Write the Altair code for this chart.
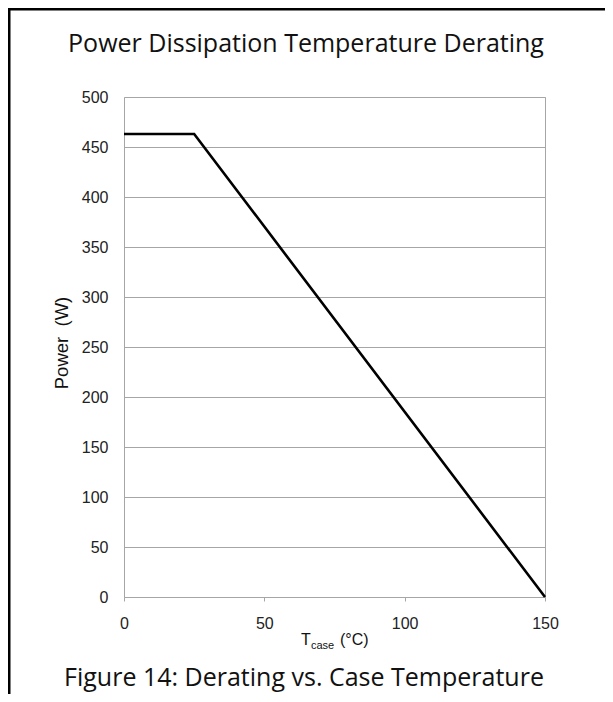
import altair as alt
import pandas as pd

# Data
temp_c = [0, 25, 150]
power_w = [463, 463, 0]
x_ticks = [0, 50, 100, 150]
y_ticks = [0, 50, 100, 150, 200, 250, 300, 350, 400, 450, 500]
title_text = "Power Dissipation Temperature Derating"
caption_text = "Figure 14: Derating vs. Case Temperature"
xt_main = "T"
xt_sub = "case"
xt_unit = "(°C)"
y_title = "Power\u00a0\u00a0(W)"

df = pd.DataFrame({"temp": temp_c, "power": power_w})

W, H = 421, 500
grid_col = "#a6a6a6"
lab_font = "Liberation Sans"
head_font = "Open Sans"

line = alt.Chart(df).mark_line(color="black", strokeWidth=2.6).encode(
    x=alt.X("temp:Q", scale=alt.Scale(domain=[0, 150], nice=False),
            axis=alt.Axis(values=x_ticks, grid=False, title=None, tickSize=4,
                          tickColor=grid_col, domainColor=grid_col, labelPadding=14,
                          labelFlush=False, labelFontSize=16, labelFont=lab_font,
                          labelColor="#222")),
    y=alt.Y("power:Q", scale=alt.Scale(domain=[0, 500], nice=False),
            axis=alt.Axis(values=y_ticks, grid=True, gridColor=grid_col, ticks=False,
                          domain=False, labelPadding=16, labelFlush=False,
                          labelFontSize=16, labelFont=lab_font, labelColor="#222",
                          title=None)),
)

def txt(s, x, y, size, font, align="left", angle=0, baseline="alphabetic"):
    return alt.Chart(pd.DataFrame({"t": [s]})).mark_text(
        font=font, fontSize=size, align=align, baseline=baseline, color="#111", angle=angle
    ).encode(x=alt.value(x), y=alt.value(y), text="t:N")

title = txt(title_text, 182, -45, 25, head_font, "center")
caption = txt(caption_text, 180, 589, 25, head_font, "center")
xt1 = txt(xt_main, 177, 548, 16, lab_font)
xt2 = txt(xt_sub, 187, 552, 11, lab_font)
xt3 = txt(xt_unit, 216, 548, 16, lab_font)
yt = txt(y_title, -62, 246, 18.5, lab_font, "center", angle=270, baseline="middle")

top_border = alt.Chart(pd.DataFrame({"a": [0]})).mark_rule(color="black", strokeWidth=3).encode(
    x=alt.value(-116), x2=alt.value(481), y=alt.value(-88))
left_border = alt.Chart(pd.DataFrame({"a": [0]})).mark_rule(color="black", strokeWidth=3).encode(
    x=alt.value(-115), y=alt.value(-88), y2=alt.value(597))

chart = alt.layer(line, title, caption, xt1, xt2, xt3, yt, top_border, left_border).properties(
    width=W, height=H,
    autosize=alt.AutoSizeParams(type="none"),
    padding={"left": 116, "top": 89, "right": 60, "bottom": 97},
).configure_view(stroke=grid_col, strokeWidth=1)

chart.save("out.html", embed_options={"renderer": "svg", "actions": False})
